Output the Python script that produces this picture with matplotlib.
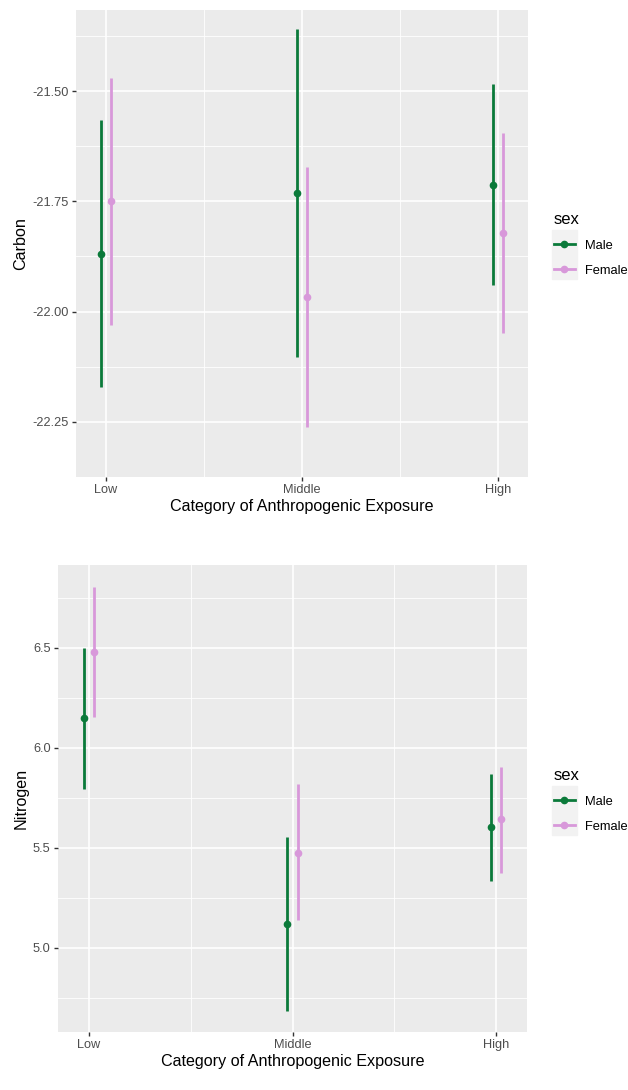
import numpy as np
import matplotlib
matplotlib.use('Agg')
from matplotlib import pyplot as plt
from matplotlib.lines import Line2D
from matplotlib.patches import Rectangle

plt.rcParams['font.family'] = ['Liberation Sans', 'DejaVu Sans']

categories = ['Low', 'Middle', 'High']
sexes = ['Male', 'Female']

# carbon: mean, lower, upper
carbon_male = [-21.870, -21.731, -21.712]
carbon_male_lo = [-22.172, -22.102, -21.939]
carbon_male_hi = [-21.566, -21.360, -21.485]
carbon_female = [-21.750, -21.968, -21.821]
carbon_female_lo = [-22.030, -22.262, -22.049]
carbon_female_hi = [-21.470, -21.672, -21.595]

# nitrogen
nitro_male = [6.149, 5.117, 5.603]
nitro_male_lo = [5.793, 4.683, 5.335]
nitro_male_hi = [6.500, 5.553, 5.867]
nitro_female = [6.477, 5.472, 5.642]
nitro_female_lo = [6.152, 5.139, 5.372]
nitro_female_hi = [6.805, 5.817, 5.905]

green = '#0B7A3A'
pink = '#D898DA'
W, H = 628, 1090


def panel(rect, ylabel, series, yticks, ylim, ticklabels):
    ax = fig.add_axes(rect)
    ax.set_facecolor('#EBEBEB')
    for s in ax.spines.values():
        s.set_visible(False)
    x = np.arange(len(categories))
    for (m, lo, hi, col, off) in series:
        xx = x + off
        ax.vlines(xx, lo, hi, color=col, lw=2.0, zorder=3)
        ax.plot(xx, m, 'o', color=col, ms=4.5, zorder=4, ls='none')
    ax.set_xlim(-0.153, 2.153)
    ax.set_ylim(*ylim)
    ax.set_xticks(x)
    ax.set_xticklabels(categories)
    ax.set_yticks(yticks)
    ax.set_yticklabels(ticklabels)
    ax.set_xticks(x[:-1] + 0.5, minor=True)
    step = yticks[1] - yticks[0]
    ax.set_yticks(np.concatenate([[yticks[0] - step / 2], np.array(yticks) + step / 2]), minor=True)
    ax.grid(which='major', color='white', lw=1.2)
    ax.grid(which='minor', color='white', lw=0.6)
    ax.set_axisbelow(True)
    ax.tick_params(which='major', length=3, width=1, color='#333333', labelcolor='#4D4D4D', labelsize=9.2, pad=2)
    ax.tick_params(which='minor', length=0)
    ax.set_ylabel(ylabel, fontsize=11.6, color='black', labelpad=3)
    ax.set_xlabel('Category of Anthropogenic Exposure', fontsize=11.6, color='black', labelpad=2)
    return ax


fig = plt.figure(figsize=(W / 100, H / 100), dpi=100)

ax1 = panel([76 / W, 1 - 477 / H, 452 / W, 467.5 / H], 'Carbon',
            [(carbon_male, carbon_male_lo, carbon_male_hi, green, -0.025),
             (carbon_female, carbon_female_lo, carbon_female_hi, pink, 0.025)],
            [-22.25, -22.0, -21.75, -21.5], (-22.305, -21.315),
            ['-22.25', '-22.00', '-21.75', '-21.50'])

ax2 = panel([57.7 / W, 1 - 1032.3 / H, 469.6 / W, 467.3 / H], 'Nitrogen',
            [(nitro_male, nitro_male_lo, nitro_male_hi, green, -0.025),
             (nitro_female, nitro_female_lo, nitro_female_hi, pink, 0.025)],
            [5.0, 5.5, 6.0, 6.5], (4.577, 6.913),
            ['5.0', '5.5', '6.0', '6.5'])


def legend(ytop):
    # key background
    fig.patches.append(Rectangle((552 / W, 1 - (ytop + 49) / H), 25 / W, 49 / H,
                                 transform=fig.transFigure, color='#F2F2F2', zorder=0))
    handles = [Line2D([], [], color=c, lw=2, marker='o', ms=4.5) for c in (green, pink)]
    lg = fig.legend(handles, sexes, title='sex', loc='upper left',
                    bbox_to_anchor=(545 / W, 1 - (ytop - 27) / H),
                    frameon=False, fontsize=9.3, title_fontsize=12,
                    handlelength=1.6, handletextpad=0.8, labelspacing=1.0,
                    borderpad=0.2, alignment='left')
    return lg


legend(230)
legend(786)

fig.savefig('out.png', dpi=100)
